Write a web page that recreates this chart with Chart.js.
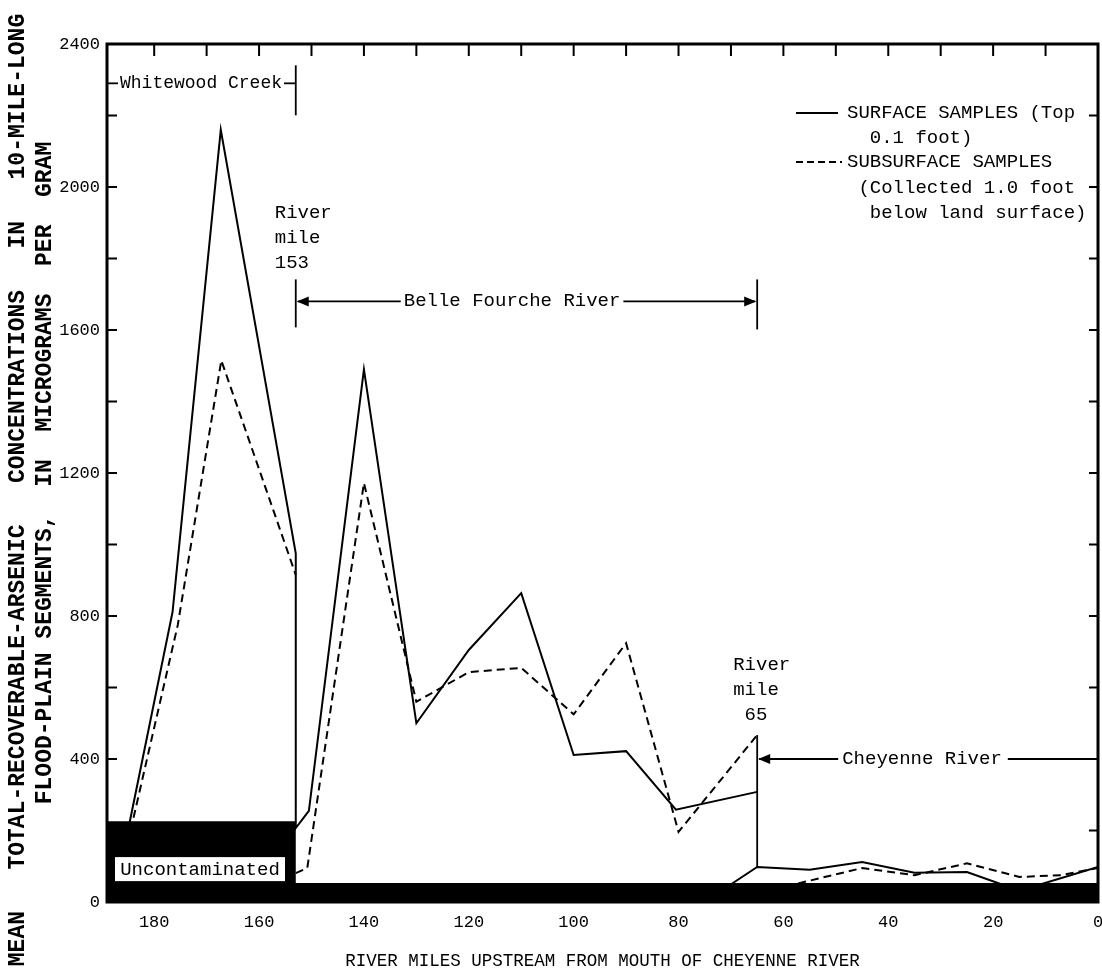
<!DOCTYPE html>
<html>
<head>
<meta charset="utf-8">
<script src="https://cdn.jsdelivr.net/npm/chart.js@4.4.0/dist/chart.umd.min.js"></script>
<style>
  html, body { margin: 0; padding: 0; background: #fff; }
  canvas { display: block; }
</style>
</head>
<body>
<canvas id="grafico" width="1102" height="978"></canvas>
<script>
// river miles upstream from mouth of Cheyenne River / arsenic, micrograms per gram
const surfaceMiles  = [185, 176.5, 167.3, 153, 153, 150.5, 140, 130, 120, 110, 100, 90, 80.5, 65, 65, 72, 65, 55, 45, 35, 25, 17.5, 12, 0];
const surfaceValues = [200, 811, 2160, 975, 207, 255, 1490, 500, 705, 864, 411, 422, 258, 308, null, 30, 98, 90, 112, 82, 84, 45, 45, 98];

const subsurfaceMiles  = [184.5, 175.5, 167.2, 153, 153, 153, 150.8, 140, 130, 120, 110, 100, 90, 80, 65, 65, 62, 45, 35, 25, 15, 7, 0];
const subsurfaceValues = [200, 775, 1515, 915, null, 81, 95, 1172, 560, 643, 655, 525, 724, 196, 467, null, 35, 95, 75, 108, 70, 75, 95];

// uncontaminated (background) band
const bandMiles  = [189, 153, 153, 0];
const bandValues = [226, 226, 53, 53];

const xTickLabels = [180, 160, 140, 120, 100, 80, 60, 40, 20, 0];
const yTickLabels = [0, 400, 800, 1200, 1600, 2000, 2400];
const yMinorTicks = [200, 400, 600, 800, 1000, 1200, 1400, 1600, 1800, 2000, 2200];
const topTicks = [180, 170, 160, 150, 140, 130, 120, 110, 100, 90, 80, 70, 60, 50, 40, 30, 20, 10];

const mono = '"Liberation Mono", "DejaVu Sans Mono", monospace';
const pts = (xs, ys) => xs.map((m, i) => ({ x: m, y: ys[i] }));

function punta(ctx, x, y, dir) {
    ctx.beginPath();
    ctx.moveTo(x, y);
    ctx.lineTo(x - dir * 12, y - 5);
    ctx.lineTo(x - dir * 12, y + 5);
    ctx.closePath();
    ctx.fill();
}

function linea(ctx, x1, y1, x2, y2) {
    ctx.beginPath(); ctx.moveTo(x1, y1); ctx.lineTo(x2, y2); ctx.stroke();
}

const notas = {
    id: 'notas',
    afterDatasetsDraw(chart) {
        const { ctx, chartArea: a, scales: { x, y } } = chart;
        const x153 = x.getPixelForValue(153), x65 = x.getPixelForValue(65);
        ctx.save();
        ctx.strokeStyle = '#000'; ctx.fillStyle = '#000';

        // frame and inward ticks
        ctx.lineWidth = 3;
        ctx.strokeRect(a.left, a.top, a.right - a.left, a.bottom - a.top);
        ctx.lineWidth = 2;
        ctx.beginPath();
        yMinorTicks.forEach(v => {
            const py = y.getPixelForValue(v);
            ctx.moveTo(a.left, py); ctx.lineTo(a.left + 10, py);
            ctx.moveTo(a.right - 9, py); ctx.lineTo(a.right, py);
        });
        topTicks.forEach(m => {
            const px = x.getPixelForValue(m);
            ctx.moveTo(px, a.top); ctx.lineTo(px, a.top + 12);
        });
        ctx.stroke();

        ctx.textBaseline = 'middle'; ctx.textAlign = 'left';
        ctx.lineWidth = 1.8;

        // Whitewood Creek
        ctx.font = '18px ' + mono;
        const yw = y.getPixelForValue(2290);
        const ww = ctx.measureText('Whitewood Creek').width;
        ctx.fillText('Whitewood Creek', a.left + 13, yw);
        linea(ctx, a.left, yw, a.left + 11, yw);
        linea(ctx, a.left + 15 + ww, yw, x153, yw);
        linea(ctx, x153, yw - 18, x153, yw + 32);

        ctx.font = '19px ' + mono;
        // Belle Fourche River
        const yb = y.getPixelForValue(1680);
        const bw = ctx.measureText('Belle Fourche River').width;
        const bx = x153 + 108;
        ctx.fillText('Belle Fourche River', bx, yb);
        linea(ctx, x153 + 2, yb, bx - 3, yb);
        linea(ctx, bx + bw + 3, yb, x65 - 2, yb);
        punta(ctx, x153 + 1, yb, -1);
        punta(ctx, x65 - 1, yb, 1);
        linea(ctx, x153, yb - 22, x153, yb + 26);
        linea(ctx, x65, yb - 22, x65, yb + 28);

        // Cheyenne River
        const yc = y.getPixelForValue(400);
        const cw = ctx.measureText('Cheyenne River').width;
        const cx = x65 + 85;
        ctx.fillText('Cheyenne River', cx, yc);
        linea(ctx, x65 + 2, yc, cx - 4, yc);
        linea(ctx, cx + cw + 6, yc, a.right, yc);
        punta(ctx, x65 + 1, yc, -1);

        // river mile labels
        let ym = y.getPixelForValue(1927);
        ['River', 'mile', '153'].forEach((t, i) => ctx.fillText(t, x153 - 21, ym + i * 25));
        ym = y.getPixelForValue(663);
        ['River', 'mile', ' 65'].forEach((t, i) => ctx.fillText(t, x65 - 24, ym + i * 25));
        linea(ctx, x65, y.getPixelForValue(467), x65, y.getPixelForValue(98));

        // legend
        const yl1 = y.getPixelForValue(2207), yl2 = y.getPixelForValue(2070);
        const lx = 847;
        ['SURFACE SAMPLES (Top', '  0.1 foot)'].forEach((t, i) => ctx.fillText(t, lx, yl1 + i * 25));
        ['SUBSURFACE SAMPLES', ' (Collected 1.0 foot', '  below land surface)'].forEach((t, i) => ctx.fillText(t, lx, yl2 + i * 25.5));
        ctx.lineWidth = 2;
        linea(ctx, lx - 51, yl1, lx - 9, yl1);
        ctx.setLineDash([7, 4]);
        linea(ctx, lx - 51, yl2, lx - 5, yl2);
        ctx.setLineDash([]);

        // uncontaminated label
        const yu = y.getPixelForValue(92);
        ctx.fillStyle = '#fff';
        ctx.fillRect(a.left + 8, yu - 12, 170, 24);
        ctx.fillStyle = '#000';
        ctx.textAlign = 'center';
        ctx.fillText('Uncontaminated', a.left + 93, yu + 1);

        // y axis title (two lines, rotated)
        ctx.font = 'bold 23px ' + mono;
        ctx.save();
        ctx.translate(18, 490);
        ctx.rotate(-Math.PI / 2);
        ctx.fillText('MEAN   TOTAL-RECOVERABLE-ARSENIC   CONCENTRATIONS   IN   10-MILE-LONG', 0, 0);
        ctx.restore();
        ctx.save();
        ctx.translate(45, 473);
        ctx.rotate(-Math.PI / 2);
        ctx.fillText('FLOOD-PLAIN SEGMENTS,  IN  MICROGRAMS  PER  GRAM', 0, 0);
        ctx.restore();

        ctx.restore();
    }
};

new Chart(document.getElementById('grafico'), {
    type: 'line',
    data: {
        datasets: [
            { label: 'Uncontaminated', data: pts(bandMiles, bandValues), borderWidth: 0, borderColor: '#000',
              backgroundColor: '#000', fill: 'origin', pointRadius: 0 },
            { label: 'Surface samples', data: pts(surfaceMiles, surfaceValues), borderColor: '#000',
              borderWidth: 2, pointRadius: 0, fill: false },
            { label: 'Subsurface samples', data: pts(subsurfaceMiles, subsurfaceValues), borderColor: '#000',
              borderWidth: 2, borderDash: [8, 5], pointRadius: 0, fill: false }
        ]
    },
    options: {
        responsive: false,
        animation: false,
        devicePixelRatio: 1,
        layout: { padding: { top: 44, right: 4, left: 0, bottom: 0 } },
        plugins: { legend: { display: false }, tooltip: { enabled: false } },
        elements: { line: { tension: 0 } },
        scales: {
            x: {
                type: 'linear', min: 0, max: 189, reverse: true,
                grid: { display: false, drawTicks: false }, border: { display: false },
                afterBuildTicks: s => { s.ticks = xTickLabels.map(v => ({ value: v })); },
                afterFit: s => { s.height = 76; s.paddingLeft = 0; s.paddingRight = 0; },
                ticks: { autoSkip: false, maxRotation: 0, padding: 10, color: '#000', font: { family: mono, size: 17 },
                         callback: v => String(v) },
                title: { display: true, text: 'RIVER MILES UPSTREAM FROM MOUTH OF CHEYENNE RIVER', color: '#000',
                         padding: { top: 0, bottom: 6 }, font: { family: mono, size: 17.5 } }
            },
            y: {
                min: 0, max: 2400,
                grid: { display: false, drawTicks: false }, border: { display: false },
                afterBuildTicks: s => { s.ticks = yTickLabels.map(v => ({ value: v })); },
                afterFit: s => { s.width = 107; s.paddingTop = 0; s.paddingBottom = 0; },
                ticks: { padding: 7, color: '#000', font: { family: mono, size: 17 }, callback: v => String(v) }
            }
        }
    },
    plugins: [notas]
});
</script>
</body>
</html>
